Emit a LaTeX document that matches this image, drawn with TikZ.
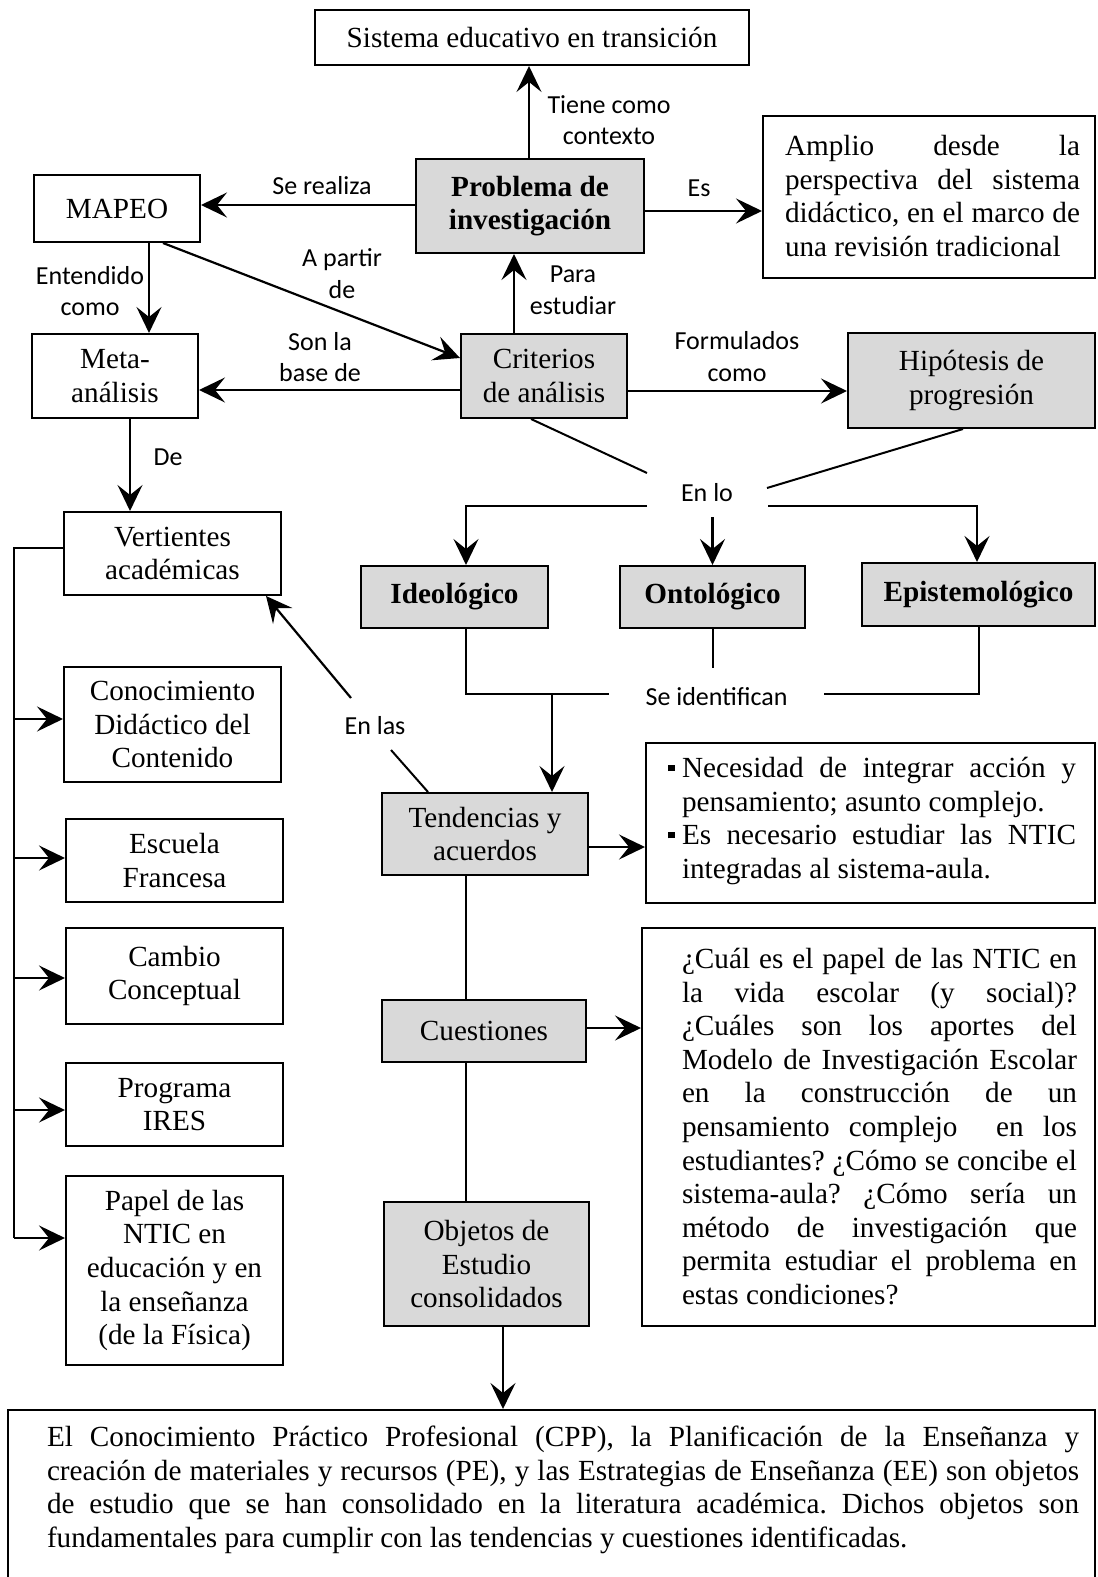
\documentclass[tikz,border=0pt]{standalone}
\usepackage{fontspec}
\setmainfont{Liberation Serif}
\newfontfamily\labfont{Carlito}
\usetikzlibrary{arrows.meta}
\definecolor{boxgray}{RGB}{217,217,217}
\newcommand\tmsize{\fontsize{14.6}{16.8}\selectfont}
\newcommand\lbsize{\labfont\fontsize{13}{15.8}\selectfont}
\newcommand\js[2]{\makebox[#1][s]{#2}}
\newcommand\sqbul{\raisebox{0.22em}{\rule{3.3pt}{3.3pt}}}
\frenchspacing
\begin{document}
\begin{tikzpicture}[x=0.5pt,y=-0.5pt,
  dim/.style 2 args={minimum width=#1*0.5pt, minimum height=#2*0.5pt},
  box/.style={draw, line width=1pt, align=center, inner sep=0pt, font=\tmsize},
  gbox/.style={box, fill=boxgray},
  txt/.style={align=left, inner sep=0pt, font=\tmsize},
  lbl/.style={font=\lbsize, align=center, inner sep=1pt},
  ln/.style={line width=1pt},
  arr/.style={line width=1.1pt, -{Stealth[length=13pt,width=12.5pt,inset=5pt]}}]
\useasboundingbox (0,0) rectangle (1097,1577);

% ---------- boxes ----------
\node[box, dim={434}{55}] (sis) at (532,37.5) {Sistema educativo en transición};
\node[gbox, dim={228}{94}, font=\tmsize\bfseries] (prob) at (530,206) {Problema de\\investigación};
\node[box, dim={332}{162}] (amp) at (929,197) {};
\node[txt] (ampt) at (932.5,196) {%
  \js{147.5pt}{Amplio desde la}\\
  \js{147.5pt}{perspectiva del sistema}\\
  \js{147.5pt}{didáctico, en el marco de}\\
  una revisión tradicional};
\node[box, dim={166}{67}] (mapeo) at (117,208.5) {MAPEO};
\node[box, dim={166}{84}] (meta) at (115,376) {Meta-\\análisis};
\node[gbox, dim={166}{84}] (crit) at (544,376) {Criterios\\de análisis};
\node[gbox, dim={247}{95}] (hip) at (971.5,380.5) {Hipótesis de\\progresión};
\node[gbox, dim={187}{62}, font=\tmsize\bfseries] (ideo) at (454.5,597) {Ideológico};
\node[gbox, dim={185}{62}, font=\tmsize\bfseries] (onto) at (712.5,597) {Ontológico};
\node[gbox, dim={233}{63}, font=\tmsize\bfseries] (epi) at (978.5,594.5) {Epistemológico};
\node[box, dim={217}{83}] (vert) at (172.5,553.5) {Vertientes\\académicas};
\node[box, dim={217}{115}] (cdc) at (172.5,724.5) {Conocimiento\\Didáctico del\\Contenido};
\node[box, dim={217}{83}] (ef) at (174.5,860.5) {Escuela\\Francesa};
\node[box, dim={217}{96}] (cc) at (174.5,976) {Cambio\\Conceptual};
\node[box, dim={217}{83}] (pi) at (174.5,1104.5) {Programa\\IRES};
\node[box, dim={217}{189}] (papel) at (174.5,1270.5) {Papel de las\\NTIC en\\educación y en\\la enseñanza\\(de la Física)};
\node[gbox, dim={206}{82}] (tend) at (485,834) {Tendencias y\\acuerdos};
\node[box, dim={449}{160}] (bul) at (870.5,823) {};
\node[txt] (bult) at (872,821) {%
  \makebox[7pt][l]{\sqbul}\js{197pt}{Necesidad de integrar acción y}\\
  \hspace*{7pt}pensamiento; asunto complejo.\\
  \makebox[7pt][l]{\sqbul}\js{197pt}{Es necesario estudiar las NTIC}\\
  \hspace*{7pt}integradas al sistema-aula.};
\node[gbox, dim={204}{62}] (cue) at (484,1031) {Cuestiones};
\node[box, dim={453}{398}] (q) at (868.5,1127) {};
\node[txt] (qt) at (879.5,1126.5) {%
  \js{197.5pt}{¿Cuál es el papel de las NTIC en}\\
  \js{197.5pt}{la vida escolar (y social)?}\\
  \js{197.5pt}{¿Cuáles son los aportes del}\\
  \js{197.5pt}{Modelo de Investigación Escolar}\\
  \js{197.5pt}{en la construcción de un}\\
  \js{197.5pt}{pensamiento complejo\ \ en los}\\
  \js{197.5pt}{estudiantes? ¿Cómo se concibe el}\\
  \js{197.5pt}{sistema-aula? ¿Cómo sería un}\\
  \js{197.5pt}{método de investigación que}\\
  \js{197.5pt}{permita estudiar el problema en}\\
  estas condiciones?};
\node[gbox, dim={205}{124}] (obj) at (486.5,1264) {Objetos de\\Estudio\\consolidados};
\node[box, dim={1087}{240}] (fin) at (551.5,1530) {};
\node[txt] (fint) at (563,1490) {%
  \js{516pt}{El Conocimiento Práctico Profesional (CPP), la Planificación de la Enseñanza y}\\
  \js{516pt}{creación de materiales y recursos (PE), y las Estrategias de Enseñanza (EE) son objetos}\\
  \js{516pt}{de estudio que se han consolidado en la literatura académica. Dichos objetos son}\\
  fundamentales para cumplir con las tendencias y cuestiones identificadas.};

% ---------- labels ----------
\node[lbl] (l1) at (609,120) {Tiene como\\contexto};
\node[lbl] (l2) at (322,186) {Se realiza};
\node[lbl] (l3) at (699,188) {Es};
\node[lbl] (l4) at (90,291) {Entendido\\como};
\node[lbl] (l5) at (342,273.5) {A partir\\de};
\node[lbl] (l6) at (320,357) {Son la\\base de};
\node[lbl] (l7) at (573,290) {Para\\estudiar};
\node[lbl] (l8) at (737,356.5) {Formulados\\como};
\node[lbl] (l9) at (168,457) {De};
\node[lbl] (enlo) at (707,493) {En lo};
\node[lbl] (seid) at (716.5,697) {Se identifican};
\node[lbl] (enlas) at (375,726) {En las};

% ---------- free ends of split connectors ----------
\coordinate (e1) at (647,473);
\coordinate (e2) at (767,488);
\coordinate (h1) at (647,506);
\coordinate (h2) at (768,506);
\coordinate (h3) at (712.5,517);
\coordinate (s1) at (609,694);
\coordinate (s2) at (824,694);
\coordinate (s3) at (552,694);
\coordinate (s4) at (712.5,668);
\coordinate (a1) at (391,750);
\coordinate (a2) at (351,698);

% ---------- connectors ----------
\draw[arr] (prob.north -| 529,0) -- (sis.south -| 529,0);
\draw[arr] (prob.west |- 0,205) -- (mapeo.east |- 0,205);
\draw[arr] (prob.east |- 0,211) -- (amp.west |- 0,211);
\draw[arr] (mapeo.south -| 149,0) -- (meta.north -| 149,0);
\draw[arr] (mapeo.south -| 163,0) -- (crit.west |- 0,358);
\draw[arr] (crit.west |- 0,390) -- (meta.east |- 0,390);
\draw[arr] (crit.north -| 514,0) -- (prob.south -| 514,0);
\draw[arr] (crit.east |- 0,391) -- (hip.west |- 0,391);
\draw[arr] (meta.south -| 130,0) -- (vert.north -| 130,0);

\draw[ln] (crit.south -| 531,0) -- (e1);
\draw[ln] (hip.south -| 963,0) -- (e2);
\draw[arr] (h1) -| (ideo.north -| 466,0);
\draw[arr] (h2) -| (epi.north -| 977,0);
\draw[arr] (h3) -- (onto.north);

\draw[ln] (ideo.south -| 466,0) |- (s1);
\draw[ln] (s2) -| (epi.south -| 979,0);
\draw[ln] (onto.south) -- (s4);
\draw[arr] (s3) -- (tend.north -| 552,0);

\draw[ln] (tend.north -| 428,0) -- (a1);
\draw[arr] (a2) -- (vert.south -| 266,0);

\draw[arr] (tend.east |- 0,847) -- (bul.west |- 0,847);
\draw[ln] (tend.south -| 466,0) -- (cue.north -| 466,0);
\draw[ln] (cue.south -| 466,0) -- (obj.north -| 466,0);
\draw[arr] (cue.east |- 0,1028) -- (q.west |- 0,1028);
\draw[arr] (obj.south -| 503,0) -- (fin.north -| 503,0);

% branch list of academic strands
\coordinate (sp0) at (14,548);
\coordinate (sp5) at (14,1238);
\draw[ln] (vert.west |- sp0) -- (sp0) -- (sp5);
\foreach \n/\y in {cdc/719, ef/858, cc/978, pi/1110, papel/1238}{
  \coordinate (sp-\n) at (14,\y);
  \draw[arr] (sp-\n) -- (\n.west |- sp-\n);
}
\end{tikzpicture}
\end{document}
